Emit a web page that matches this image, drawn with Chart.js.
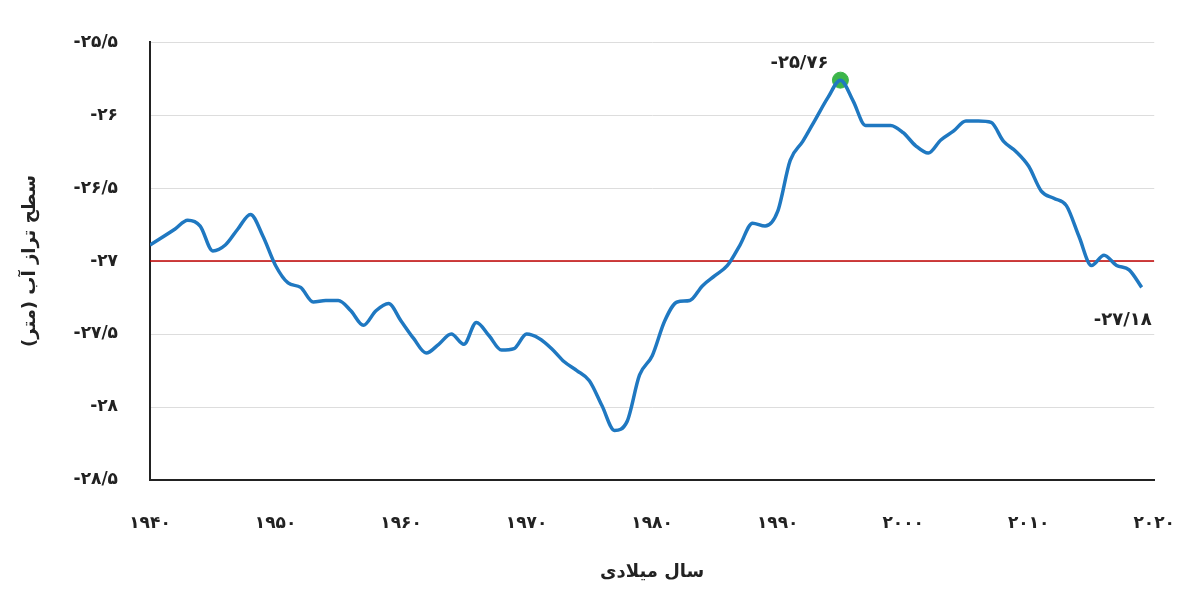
<!DOCTYPE html>
<html><head><meta charset="utf-8">
<script src="https://cdn.jsdelivr.net/npm/chart.js@4"></script>
<style>body{margin:0;background:#fff}#w{width:1200px;height:597px}</style>
</head><body><div id="w"><canvas id="c"></canvas></div>
<script>
const years = [1940,1942,1943,1944,1945,1946,1947,1948,1949,1950,1951,1952,1953,1954,1955,1956,1957,1958,1959,1960,1961,1962,1963,1964,1965,1966,1967,1968,1969,1970,1971,1972,1973,1974,1975,1976,1977,1978,1979,1980,1981,1982,1983,1984,1985,1986,1987,1988,1989,1990,1991,1992,1993,1994,1995,1996,1997,1998,1999,2000,2001,2002,2003,2004,2005,2006,2007,2008,2009,2010,2011,2012,2013,2014,2015,2016,2017,2018,2019];
const levels = [-26.89,-26.78,-26.72,-26.76,-26.93,-26.89,-26.78,-26.68,-26.83,-27.03,-27.15,-27.18,-27.28,-27.27,-27.27,-27.34,-27.44,-27.34,-27.29,-27.41,-27.53,-27.63,-27.57,-27.50,-27.57,-27.42,-27.51,-27.61,-27.60,-27.50,-27.53,-27.60,-27.69,-27.75,-27.82,-27.99,-28.16,-28.10,-27.78,-27.65,-27.41,-27.28,-27.27,-27.17,-27.10,-27.03,-26.89,-26.74,-26.76,-26.66,-26.31,-26.18,-26.03,-25.88,-25.76,-25.90,-26.07,-26.07,-26.07,-26.12,-26.21,-26.26,-26.17,-26.11,-26.04,-26.04,-26.05,-26.18,-26.25,-26.35,-26.52,-26.57,-26.62,-26.83,-27.03,-26.96,-27.03,-27.06,-27.18];
const refLevel = -27;
const peak = {x:1995, y:-25.76, label:'-۲۵/۷۶'};
const last = {x:2019, y:-27.18, label:'-۲۷/۱۸'};
const fa = s => String(s).replace(/[0-9]/g, d => '۰۱۲۳۴۵۶۷۸۹'[d]).replace('.', '/');
const labelPlugin = {id:'lbl', afterDatasetsDraw(ch){
  const c=ch.ctx, xs=ch.scales.x, ys=ch.scales.y;
  c.save(); c.font='bold 18px "DejaVu Sans"'; c.fillStyle='#222';
  c.textAlign='right'; c.fillText(peak.label, xs.getPixelForValue(peak.x)-12, ys.getPixelForValue(peak.y)-12);
  c.fillText(last.label, xs.getPixelForValue(last.x)+10, ys.getPixelForValue(last.y)+38);
  c.restore();
}};
new Chart(document.getElementById('c'), {
  type:'line',
  data:{datasets:[
    {data:years.map((y,i)=>({x:y,y:levels[i]})), borderColor:'#1f78c1', borderWidth:3.5, pointRadius:0, tension:0.4, cubicInterpolationMode:'monotone'},
    {data:[{x:1940,y:refLevel},{x:2020,y:refLevel}], borderColor:'#c00000', borderWidth:1.5, pointRadius:0},
    {data:[{x:peak.x,y:peak.y}], pointRadius:8, pointBackgroundColor:'#3cb54a', pointBorderColor:'#3cb54a', showLine:false}
  ]},
  options:{responsive:true, maintainAspectRatio:false, animation:false,
    layout:{padding:{left:0,right:37,top:41,bottom:0}},
    plugins:{legend:{display:false}, tooltip:{enabled:false}},
    scales:{
      x:{type:'linear', min:1940, max:2020, afterFit:s=>{s.height=117;}, grid:{display:false}, border:{color:'#222',width:2},
        ticks:{stepSize:10, callback:v=>fa(v), color:'#222', font:{size:17,weight:'bold',family:'DejaVu Sans'}, padding:25},
        title:{display:true, text:'سال میلادی', color:'#222', font:{size:18,weight:'bold',family:'DejaVu Sans'}, padding:{top:8,bottom:14}}},
      y:{min:-28.5, max:-25.5, afterFit:s=>{s.width=150;}, grid:{color:'#ddd', drawTicks:false}, border:{color:'#222',width:2},
        ticks:{stepSize:0.5, callback:v=>fa(v), color:'#222', font:{size:17,weight:'bold',family:'DejaVu Sans'}, padding:32},
        title:{display:true, text:'سطح تراز آب (متر)', color:'#222', font:{size:18,weight:'bold',family:'DejaVu Sans'}, padding:{top:20,bottom:0}}}
    }},
  plugins:[labelPlugin]
});
</script></body></html>
